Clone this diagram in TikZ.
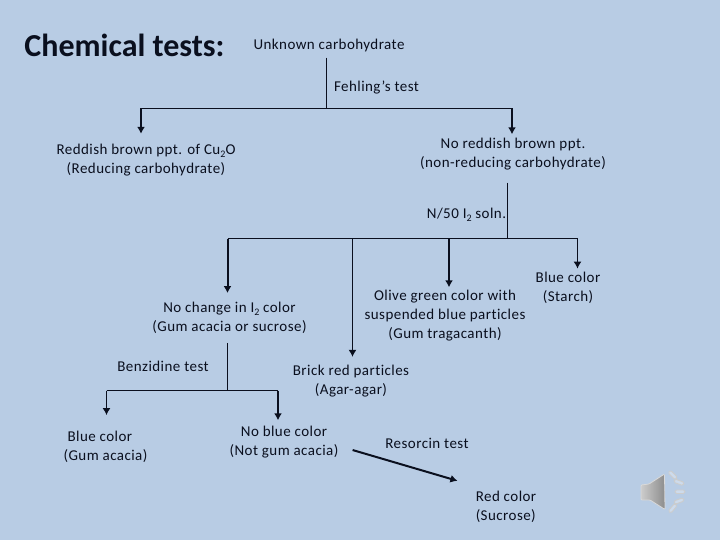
\documentclass[tikz,border=0pt]{standalone}
\usepackage{fontspec}
\setmainfont[LetterSpace=3,Ligatures=NoCommon]{Carlito}
\newfontfamily\titlefont{Carlito}
\usepackage{xcolor}
\usetikzlibrary{positioning,arrows.meta,calc}
\definecolor{slidebg}{HTML}{B8CCE4}
\definecolor{inktext}{HTML}{0A0F1E}
\newcommand{\subtwo}{\raisebox{-3.2pt}{\fontsize{10}{10}\selectfont 2}}
\tikzset{
  lbl/.style={align=center,font=\fontsize{15}{19}\selectfont,text=inktext,inner sep=2pt},
  thin line/.style={draw=inktext,line width=1pt},
  drop/.style={draw=inktext,line width=1.1pt,-{Latex[length=7pt,width=8pt]}},
  dropthick/.style={draw=inktext,line width=2pt,-{Latex[length=7pt,width=8pt]}},
  raybar/.style={draw=white!80!black,fill=slidebg!70!white,line width=0.9pt,rounded corners=1.5pt,
    minimum width=10pt,minimum height=3.5pt,inner sep=0pt},
}
\begin{document}
\begin{tikzpicture}[x=1pt,y=-1pt]
\useasboundingbox[fill=slidebg] (0,0) rectangle (720,540);

% Title and first test
\node[text=inktext,font=\titlefont\fontsize{32}{34}\selectfont\bfseries] (title) at (124.5,45) {Chemical tests:};
\node[lbl] (unknown) at (329,46) {Unknown carbohydrate};
\node[lbl] (fehling) at (376.5,88) {Fehling's test};
\node[lbl] (reddish) at (146,160) {Reddish brown ppt. of Cu\subtwo O\\(Reducing carbohydrate)};
\node[lbl] (noreddish) at (513,154) {No reddish brown ppt.\\(non-reducing carbohydrate)};

% Iodine step
\node[lbl] (iodine) at (466.5,215) {N/50 I\subtwo\ soln.};
\node[lbl] (nochange) at (229.5,318) {No change in I\subtwo\ color\\(Gum acacia or sucrose)};
\node[lbl] (olive) at (445,316) {Olive green color with\\suspended blue particles\\(Gum tragacanth)};
\node[lbl] (starch) at (568,287.5) {Blue color\\(Starch)};
\node[lbl] (brick) at (351,381) {Brick red particles\\(Agar-agar)};

% Benzidine and resorcin
\node[lbl] (benzidine) at (163,366) {Benzidine test};
\node[lbl,align=left] (gumacacia) at (105.5,447) {\hspace*{4pt}Blue color\\(Gum acacia)};
\node[lbl] (noblue) at (284,442.5) {No blue color\\(Not gum acacia)};
\node[lbl] (resorcin) at (427,443) {Resorcin test};
\node[lbl,align=left] (sucrose) at (506,506.5) {Red color\\(Sucrose)};

% Junctions
\coordinate (top) at (326.5,108.5);
\coordinate (topl) at (141,108.5);
\coordinate (topr) at (512,108.5);
\coordinate (mid) at (507.5,238.5);
\coordinate (midl) at (227.5,238.5);
\coordinate (midb) at (352.5,238.5);
\coordinate (midc) at (449,238.5);
\coordinate (midr) at (577.5,238.5);
\coordinate (low) at (227.5,390.5);
\coordinate (lowl) at (106.5,390.5);
\coordinate (lowr) at (278,390.5);

% Connectors
\draw[thin line,shorten <=3pt] (unknown.south -| top) -- (top);
\draw[thin line] (topl) -- (topr);
\draw[dropthick,shorten >=8pt] (topl) -- (topl |- reddish.north);
\draw[dropthick,shorten >=1.5pt] (topr) -- (topr |- noreddish.north);

\draw[thin line,shorten <=10.5pt] (noreddish.south -| mid) -- (mid);
\draw[thin line] (midl) -- (midr);
\draw[dropthick,shorten >=7pt] (midl) -- (midl |- nochange.north);
\draw[drop,shorten >=6pt] (midb) -- (midb |- brick.north);
\draw[dropthick,shorten >=1pt] (midc) -- (midc |- olive.north);
\draw[drop,shorten >=1pt] (midr) -- (midr |- starch.north);

\draw[thin line,shorten <=7pt] (nochange.south -| low) -- (low);
\draw[thin line] (lowl) -- (lowr);
\draw[drop,shorten >=14pt] (lowl) -- (lowl |- gumacacia.north);
\draw[dropthick,shorten >=4pt] (lowr) -- (lowr |- noblue.north);
\draw[dropthick,shorten <=12.5pt,shorten >=16.8pt] ([yshift=-4pt]noblue.east) -- ([yshift=3pt]sucrose.north west);

% Speaker
\shade[left color=white!80!black,right color=black!45,draw=white!85!black,line width=0.8pt,rounded corners=1pt]
  (641,485) -- (649,484) -- (664.5,474) -- (665,509.5) -- (650,500) -- (641,500) -- cycle;
\foreach \i/\x/\y/\a in {1/672.7/475/-45,2/679/482.3/-20,3/680/491.7/0,4/679/501/20,5/672.7/508.3/50}{
  \node[raybar,rotate=\a] (ray\i) at (\x,\y) {};
}
\end{tikzpicture}
\end{document}
